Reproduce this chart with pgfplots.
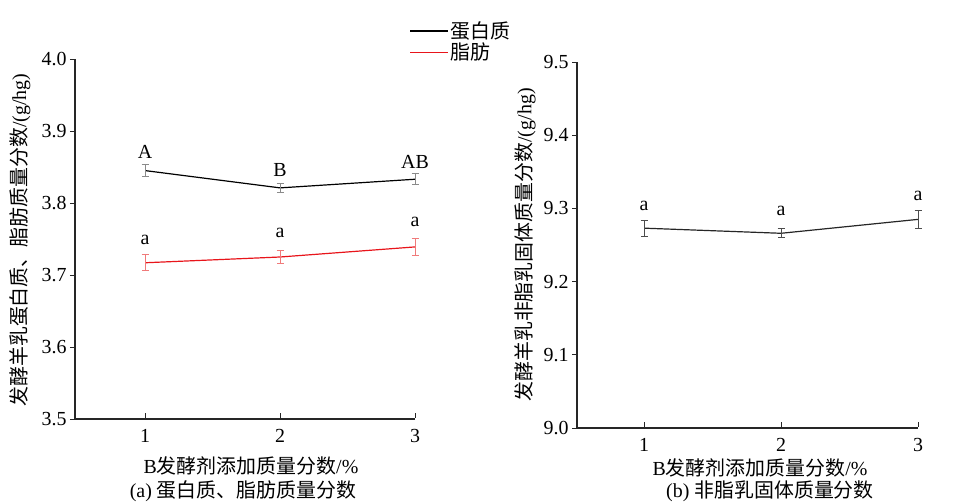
\documentclass[border=0pt]{standalone}
\usepackage{fontspec}
\setmainfont{Liberation Serif}
\newfontfamily\cjk{Noto Sans CJK SC}
\usepackage{pgfplots}
\pgfplotsset{compat=1.18}
\definecolor{pro}{HTML}{000000}
\definecolor{fat}{HTML}{E8151B}
\definecolor{proerr}{HTML}{8A8A8A}
\definecolor{faterr}{HTML}{F07A7A}
\tikzset{lab/.style={font=\fontsize{20}{24}\selectfont}}
\begin{document}
\begin{tikzpicture}
\useasboundingbox (0bp,0bp) rectangle (978bp,502bp);
\pgfplotsset{
  myax/.style={
    scale only axis,
    anchor=south west,
    axis x line=bottom, axis y line=left,
    axis line style={-, line width=1.1bp, black!85},
    tick align=outside,
    major tick length=5bp,
    tick style={line width=0.9bp, black!85},
    x tick style={yshift=6bp},
    xtick={1,2,3},
    /pgf/number format/assume math mode=true,
    tick label style={font=\rmfamily\fontsize{20}{24}\selectfont},
    yticklabel style={/pgf/number format/.cd, fixed, fixed zerofill, precision=1},
    xticklabel style={yshift=-2bp},
    clip=false,
  },
}
\begin{axis}[myax, at={(75bp,83bp)}, width=340bp, height=360bp,
  xmin=0.48, xmax=3, ymin=3.5, ymax=4.0,
  ytick={3.5,3.6,3.7,3.8,3.9,4.0},
  ylabel={{\cjk 发酵羊乳蛋白质、脂肪质量分数}/(g/hg)},
  ylabel style={at={(axis description cs:-0.162,0.497)}, anchor=center, font=\fontsize{20}{24}\selectfont},
  legend style={at={(0.975,1.115)}, anchor=north west, draw=none, fill=none,
    font=\cjk\fontsize{20}{24}\selectfont, row sep=-1bp, cells={anchor=west}},
  legend image code/.code={\path (0bp,0bp) -- (38bp,0bp); \draw[#1, line width=1.2bp] (0bp,0bp) -- (32bp,0bp);}]
\addplot[pro, line width=1.2bp, error bars/.cd, y dir=both, y explicit,
  error bar style={line width=1bp, proerr},
  error mark options={rotate=90, mark size=3.5bp, line width=1bp, proerr}]
  table[x=x, y=y, y error=e] {
x y e
1 3.845 0.008
2 3.821 0.006
3 3.833 0.008
};
\addlegendentry{蛋白质}
\addplot[fat, line width=1.2bp, error bars/.cd, y dir=both, y explicit,
  error bar style={line width=1bp, faterr},
  error mark options={rotate=90, mark size=3.5bp, line width=1bp, faterr}]
  table[x=x, y=y, y error=e] {
x y e
1 3.717 0.011
2 3.725 0.009
3 3.739 0.012
};
\addlegendentry{脂肪}
\node[lab] at (axis cs:1,3.871) {A};
\node[lab] at (axis cs:2,3.846) {B};
\node[lab] at (axis cs:3,3.857) {AB};
\node[lab] at (axis cs:1,3.749) {a};
\node[lab] at (axis cs:2,3.758) {a};
\node[lab] at (axis cs:3,3.774) {a};
\end{axis}
\begin{axis}[myax, at={(577bp,74bp)}, width=341bp, height=366bp,
  xmin=0.51, xmax=3, ymin=9.0, ymax=9.5,
  ytick={9.0,9.1,9.2,9.3,9.4,9.5},
  ylabel={{\cjk 发酵羊乳非脂乳固体质量分数}/(g/hg)},
  ylabel style={at={(axis description cs:-0.152,0.5)}, anchor=center, font=\fontsize{20}{24}\selectfont}]
\addplot[black!85, line width=1.2bp, error bars/.cd, y dir=both, y explicit,
  error bar style={line width=1bp, black!70},
  error mark options={rotate=90, mark size=3.5bp, line width=1bp, black!70}]
  table[x=x, y=y, y error=e] {
x y e
1 9.273 0.011
2 9.266 0.006
3 9.285 0.012
};
\node[lab] at (axis cs:1,9.303) {a};
\node[lab] at (axis cs:2,9.296) {a};
\node[lab] at (axis cs:3,9.317) {a};
\end{axis}
\node[lab] at (251bp,36bp) {B{\cjk 发酵剂添加质量分数}/\%};
\node[lab] at (243bp,11bp) {(a) {\cjk 蛋白质、脂肪质量分数}};
\node[lab] at (760bp,34bp) {B{\cjk 发酵剂添加质量分数}/\%};
\node[lab] at (770bp,11bp) {(b) {\cjk 非脂乳固体质量分数}};
\end{tikzpicture}
\end{document}
